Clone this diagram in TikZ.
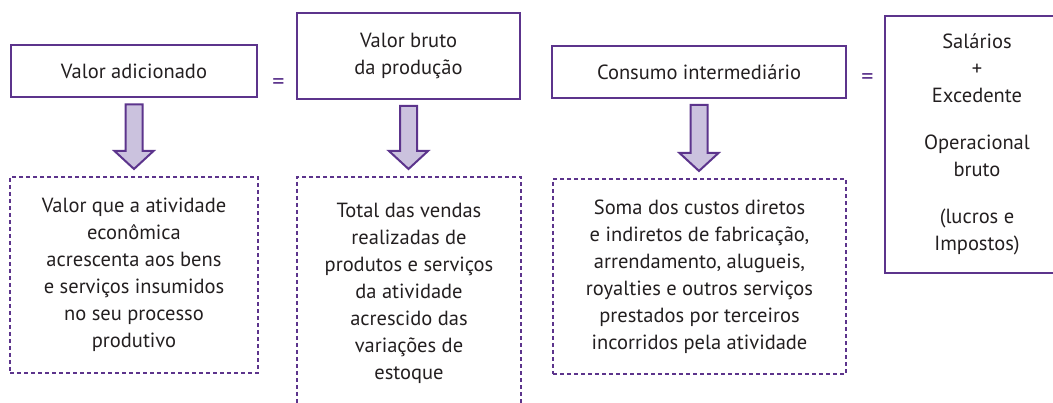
\documentclass[tikz,border=0pt]{standalone}
\usepackage{fontspec}
\setmainfont{PT Sans}
\usetikzlibrary{calc}
\definecolor{vio}{RGB}{92,52,140}
\definecolor{lav}{RGB}{203,194,222}
\definecolor{ink}{RGB}{35,31,32}
\newcommand\blockarr[2]{%
  \draw[barrow] let \p1=(#1.south), \p2=(#2.north) in
    (\x1-8.5pt,\y1-6pt) -- (\x1-8.5pt,\y2+25pt) -- (\x1-19.5pt,\y2+25pt) --
    (\x1,\y2+7pt) -- (\x1+19.5pt,\y2+25pt) -- (\x1+8.5pt,\y2+25pt) --
    (\x1+8.5pt,\y1-6pt) -- cycle;}
\begin{document}
\begin{tikzpicture}[x=1pt,y=-1pt,
  font=\fontsize{20.5}{27}\selectfont, text=ink,
  box/.style={draw=vio, line width=2pt, align=center, inner sep=0pt},
  dbox/.style={box, dash pattern=on 4pt off 3pt},
  eqsign/.style={text=vio, font=\fontsize{24}{24}\selectfont, inner sep=0pt},
  barrow/.style={draw=vio, fill=lav, line width=2pt, line join=miter}]
\useasboundingbox (0,0) rectangle (1053,403);
\clip (0,0) rectangle (1053,403);
\node[box, minimum width=246pt, minimum height=52pt] (va) at (134,71.5) {Valor adicionado};
\node[box, minimum width=223pt, minimum height=86pt] (vb) at (408.5,56) {Valor bruto\\da produção};
\node[box, minimum width=294pt, minimum height=52pt] (ci) at (699,72) {Consumo intermediário};
\node[box, minimum width=184pt, minimum height=257pt] (sa) at (977,144.5)
  {Salários\\+\\Excedente\\[20pt]Operacional\\bruto\\[20pt](lucros e\\Impostos)};
\node[eqsign] (eq1) at (278.5,84) {=};
\node[eqsign] (eq2) at (867.5,79) {=};
\node[dbox, minimum width=248pt, minimum height=196pt] (da) at (134,275)
  {Valor que a atividade\\econômica\\acrescenta aos bens\\e serviços insumidos\\no seu processo\\produtivo};
\node[dbox, minimum width=224pt, minimum height=233pt] (db) at (409,293.5)
  {Total das vendas\\realizadas de\\produtos e serviços\\da atividade\\acrescido das\\variações de\\estoque};
\node[dbox, minimum width=293pt, minimum height=195pt] (dc) at (699.5,276.5)
  {Soma dos custos diretos\\e indiretos de fabricação,\\arrendamento, alugueis,\\royalties e outros serviços\\prestados por terceiros\\incorridos pela atividade};
\blockarr{va}{da}
\blockarr{vb}{db}
\blockarr{ci}{dc}
\end{tikzpicture}
\end{document}
